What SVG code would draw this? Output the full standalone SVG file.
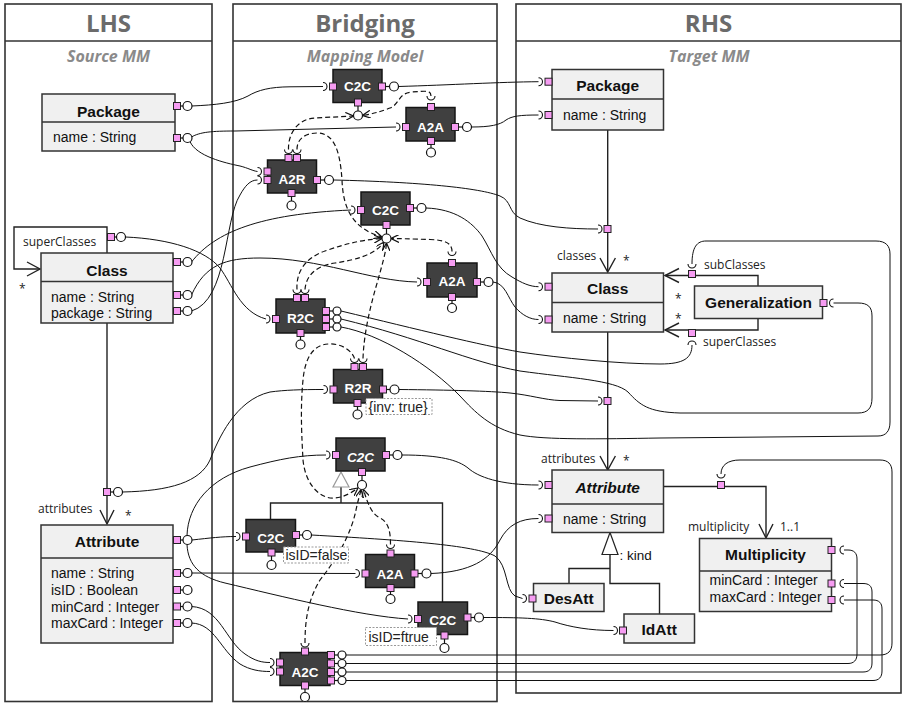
<svg xmlns="http://www.w3.org/2000/svg" width="903" height="704" viewBox="0 0 903 704">
<defs>
<style>
.panel{fill:none;stroke:#333;stroke-width:1.6}
.ttl{font-family:'Open Sans',sans-serif;font-weight:bold;font-size:24px;fill:#6b6b6b;text-anchor:middle}
.sub{font-family:'Open Sans',sans-serif;font-weight:bold;font-style:italic;font-size:16px;fill:#8a8a8a;text-anchor:middle}
.cls{fill:#f0f0f0;stroke:#333;stroke-width:1.5}
.div{stroke:#333;stroke-width:1.5}
.cn{font-family:'Liberation Sans',Arial,sans-serif;font-weight:bold;font-size:15.5px;fill:#111;text-anchor:middle}
.at{font-family:'Liberation Sans',Arial,sans-serif;font-size:14px;fill:#111}
.lbl{font-family:'Open Sans',sans-serif;font-size:12px;fill:#222}
.map{fill:#404040;stroke:#151515;stroke-width:1.5}
.mt{font-family:'Liberation Sans',Arial,sans-serif;font-weight:bold;font-size:13.5px;fill:#fff;text-anchor:middle}
.p{fill:#f69cf2;stroke:#222;stroke-width:1}
.lo{fill:#fff;stroke:#111;stroke-width:1.2}
.st{stroke:#111;stroke-width:1.2}
.w{fill:none;stroke:#111;stroke-width:1}
.d{fill:none;stroke:#111;stroke-width:1.2;stroke-dasharray:5 3;marker-end:url(#ah)}
.sk{fill:none;stroke:#111;stroke-width:1.1}
.as{fill:none;stroke:#222;stroke-width:1.4}
.note{fill:#fff;stroke:#999;stroke-width:1;stroke-dasharray:2 1.5}
.nt{font-family:'Liberation Sans',Arial,sans-serif;font-size:14px;fill:#222}
.gen{fill:#fff;stroke:#222;stroke-width:1.2}
</style>
<marker id="ah" viewBox="0 0 8 8" refX="8" refY="4" markerWidth="8" markerHeight="8" markerUnits="userSpaceOnUse" orient="auto">
<path d="M0,0 L8,4 L0,8" fill="none" stroke="#111" stroke-width="1.2" stroke-dasharray="none"/>
</marker>
</defs>
<rect x="0" y="0" width="903" height="704" fill="#fff"/>

<g id="panels">
<rect class="panel" x="5" y="4" width="207" height="697.5"/>
<line class="panel" x1="5" y1="41" x2="212" y2="41"/>
<text class="ttl" x="108.5" y="32">LHS</text>
<text class="sub" x="108.5" y="62">Source MM</text>
<rect class="panel" x="233" y="4" width="264" height="697.5"/>
<line class="panel" x1="233" y1="41" x2="497" y2="41"/>
<text class="ttl" x="365" y="32">Bridging</text>
<text class="sub" x="365" y="62">Mapping Model</text>
<rect class="panel" x="516" y="4" width="385" height="689"/>
<line class="panel" x1="516" y1="41" x2="901" y2="41"/>
<text class="ttl" x="708.5" y="32">RHS</text>
<text class="sub" x="709" y="62">Target MM</text>
</g>

<g id="structure">
<path class="as" d="M107,253 V227 H14 V269 H39"/>
<path class="as" d="M27,262 L40,269 L27,276"/>
<text class="lbl" x="23" y="246">superClasses</text>
<text class="lbl" x="19" y="293">*</text>
<path class="as" d="M107,323 V523"/>
<path class="as" d="M100,510 L107,524 L114,510"/>
<text class="lbl" x="38" y="513">attributes</text>
<text class="lbl" x="125" y="520">*</text>
<path class="as" d="M607.7,130 V271"/>
<path class="as" d="M600,258 L607.7,272 L615.4,258"/>
<text class="lbl" x="557" y="260">classes</text>
<text class="lbl" x="623" y="265">*</text>
<path class="as" d="M758,286 V275.5 H665"/>
<path class="as" d="M679,268.5 L665,275.5 L679,282.5"/>
<path class="as" d="M758,318.5 V330 H665"/>
<path class="as" d="M679,323 L665,330 L679,337"/>
<text class="lbl" x="704" y="269">subClasses</text>
<text class="lbl" x="703" y="346">superClasses</text>
<text class="lbl" x="675" y="302.5">*</text>
<text class="lbl" x="675" y="323">*</text>
<path class="as" d="M607.7,332 V469"/>
<path class="as" d="M600,456 L607.7,470 L615.4,456"/>
<text class="lbl" x="541" y="463">attributes</text>
<text class="lbl" x="623" y="465">*</text>
<path class="as" d="M663.5,486.5 H766 V537"/>
<path class="as" d="M759,524 L766,538 L773,524"/>
<text class="lbl" x="688" y="531">multiplicity</text>
<text class="lbl" x="780" y="531">1..1</text>
<path class="as" d="M610,554.5 V583.5 H659.5 V614"/>
<path class="as" d="M610,568.5 H569 V583.5"/>
<path class="gen" d="M610,532.5 L618,554.5 L602,554.5 Z"/>
<text class="at" x="619.5" y="560" style="font-size:13.5px">: kind</text>
<path class="as" d="M341,487 V503"/>
<path class="as" d="M270.5,519.5 V503 H442.5 V602"/>
<path d="M341,472 L349,487 L333,487 Z" fill="#fff" stroke="#999" stroke-width="1.2"/>
</g>

<g id="connectors">
<path class="w" d="M191.5,106 C215,105 235,103 248,96 C258,90 270,87 290,86.8 L323,86.5"/>
<path class="w" d="M191.5,137 C200,132 212,131 235,131 L396,127"/>
<path class="w" d="M190,141.5 C196,156 225,163 240,166 C248,168 253,171 257.5,171.5"/>
<path class="w" d="M398.5,86.5 C450,85 500,82 538.5,81.7"/>
<path class="w" d="M471.5,127 C490,127 500,125 506,120 C512,116 520,115 538.5,115"/>
<path class="w" d="M333.5,180 C420,182 480,188 500,196 C512,201 508,212 520,218 C540,227 570,229 598,229"/>
<path class="w" d="M191.5,262 C215,232 260,214 351,210"/>
<path class="w" d="M191.5,295 C205,265 225,258 260,258 C320,258 370,281 417,282"/>
<path class="w" d="M191.5,311 C228,300 224,220 240,195 C245,186 250,180 257.5,180"/>
<path class="w" d="M125.5,237 C170,239 205,250 220,268 C232,284 240,312 266,319"/>
<path class="w" d="M426,208 C455,209 472,222 482,236 C492,252 496,268 512,277 C522,283 530,286.7 538.5,286.7"/>
<path class="w" d="M493,282 C505,283 508,298 515,307 C522,315 530,319.5 538.5,319.5"/>
<path class="w" d="M341,311 C420,330 480,345 520,352 C560,358 620,364 660,364 C684,364 692,358 692,345"/>
<path class="w" d="M341,319 C420,338 470,362 520,371 C570,378 615,380 628,392 C640,405 648,412 680,413 L858,413 C868,413 872,408 872,398 L872,316 C872,307 868,303 858,303 L833.5,303"/>
<path class="w" d="M341,327 C380,334 430,365 460,396 C475,412 490,428 520,435 C545,440 600,439 660,438 L878,436 C886,436 890,431 890,422 L890,254 C890,246 886,241 876,241 L706,241 C697,241 692,247 692,264"/>
<path class="w" d="M399,389.5 C450,390 490,391 510,393 C530,395 545,400 560,400.5 L598,401"/>
<path class="w" d="M402,455 C440,455 458,460 468,468 C478,477 500,485 538.5,485"/>
<path class="w" d="M122.5,492 C170,491 200,482 210,460 C218,440 235,400 270,392 C285,390 300,389.5 323.5,389.5"/>
<path class="w" d="M192,540 C210,538 222,536.5 236,536.5"/>
<path class="w" d="M187,535.5 C188,505 210,478 250,467 C280,459 300,455 326,455"/>
<path class="w" d="M187,544.5 C188,565 200,577 225,583 C280,596 360,616 408,619"/>
<path class="w" d="M192,573 L355.5,573.5"/>
<path class="w" d="M191.5,606.5 C220,608 225,640 245,654 C255,661 262,662.5 270,662.5"/>
<path class="w" d="M191.5,623 C215,624 220,650 240,664 C250,670 260,671.5 270,671.5"/>
<path class="w" d="M311.5,535 C400,540 475,545 495,556 C508,565 505,590 515,596 L522.5,598.5"/>
<path class="w" d="M431,573.5 C470,572 490,560 500,540 C508,525 520,518.5 538.5,518.5"/>
<path class="w" d="M483.5,617.5 C520,617.5 540,618 555,622 C570,627 590,630.5 613.5,630.5"/>
<path class="w" d="M346,655 L880,655 C888,655 892,651 892,643 L892,472 C892,464 888,460 880,460 L740,460 C728,460 721,465 721,474"/>
<path class="w" d="M346,663.5 L848,663.5 C854,663.5 857,660 857,654 L857,559 C857,553 854,550 848,550 L844,550"/>
<path class="w" d="M346,672 L863,672 C869,672 872,669 872,663 L872,592 C872,586 869,583.5 863,583.5 L844,583.5"/>
<path class="w" d="M346,680.5 L873,680.5 C879,680.5 882,677 882,671 L882,609 C882,603 879,600 873,600 L844,600"/>
<path class="d" d="M288.5,149.5 C288,133 298,119 315,118 L353.5,116"/>
<path class="d" d="M431,96 C431,90 426,91 412,92 C398,93 400,104 390,108 C380,112 372,114 362.5,115.5"/>
<path class="d" d="M297,149.5 C297,138 306,133 318,133 C334,134 340,150 342,180 C343,205 350,228 382,237"/>
<path class="d" d="M297,289.5 C296,272 305,258 325,251 C345,244 360,240 382,238.5"/>
<path class="d" d="M305,289.5 C306,276 315,266 335,263 C355,260 375,255 384,242"/>
<path class="d" d="M452,251.5 C452,243 445,240 430,239.5 C410,239 400,238.5 391,238.5"/>
<path class="d" d="M363,358.5 C364,330 372,300 378,280 C382,265 386,252 386.5,243"/>
<path class="d" d="M354.5,358.5 C352,350 340,343 328,344 C313,345 305,358 303,380 C300,410 302,440 303,460 C305,480 315,495 330,498 C340,499 350,494 358,488"/>
<path class="d" d="M390.5,544.5 C390.5,530 388,522 380,518 C372,514 368,505 363.5,489.5"/>
<path class="d" d="M305,643 C305,620 308,600 320,580 C340,555 352,530 356,510 C358,500 360,495 361,489.5"/>
<g class="sk">
<path d="M323,82.5 A4,4 0 0 1 323,90.5"/>
<path d="M396,123 A4,4 0 0 1 396,131"/>
<path d="M257.5,167.5 A4,4 0 0 1 257.5,175.5"/>
<path d="M257.5,176 A4,4 0 0 1 257.5,184"/>
<path d="M351,206 A4,4 0 0 1 351,214"/>
<path d="M417,278 A4,4 0 0 1 417,286"/>
<path d="M266,315 A4,4 0 0 1 266,323"/>
<path d="M323.5,385.5 A4,4 0 0 1 323.5,393.5"/>
<path d="M326,451 A4,4 0 0 1 326,459"/>
<path d="M236,532.5 A4,4 0 0 1 236,540.5"/>
<path d="M355.5,569.5 A4,4 0 0 1 355.5,577.5"/>
<path d="M408,615 A4,4 0 0 1 408,623"/>
<path d="M270,658.5 A4,4 0 0 1 270,666.5"/>
<path d="M270,667.5 A4,4 0 0 1 270,675.5"/>
<path d="M538.5,77.7 A4,4 0 0 1 538.5,85.7"/>
<path d="M538.5,111 A4,4 0 0 1 538.5,119"/>
<path d="M598,225 A4,4 0 0 1 598,233"/>
<path d="M538.5,282.7 A4,4 0 0 1 538.5,290.7"/>
<path d="M538.5,315.5 A4,4 0 0 1 538.5,323.5"/>
<path d="M598,397 A4,4 0 0 1 598,405"/>
<path d="M538.5,481 A4,4 0 0 1 538.5,489"/>
<path d="M538.5,514.5 A4,4 0 0 1 538.5,522.5"/>
<path d="M522.5,594.5 A4,4 0 0 1 522.5,602.5"/>
<path d="M613.5,626.5 A4,4 0 0 1 613.5,634.5"/>
<path d="M427,96 A4,4 0 0 0 435,96"/>
<path d="M284.5,149.5 A4,4 0 0 0 292.5,149.5"/>
<path d="M293,149.5 A4,4 0 0 0 301,149.5"/>
<path d="M448,251.5 A4,4 0 0 0 456,251.5"/>
<path d="M293,289.5 A4,4 0 0 0 301,289.5"/>
<path d="M301,289.5 A4,4 0 0 0 309,289.5"/>
<path d="M350.5,358.5 A4,4 0 0 0 358.5,358.5"/>
<path d="M359,358.5 A4,4 0 0 0 367,358.5"/>
<path d="M386.5,544.5 A4,4 0 0 0 394.5,544.5"/>
<path d="M301,643 A4,4 0 0 0 309,643"/>
<path d="M688,264 A4,4 0 0 0 696,264"/>
<path d="M717,474 A4,4 0 0 0 725,474"/>
<path d="M688,345 A4,4 0 0 1 696,345"/>
<path d="M833.5,299 A4,4 0 0 0 833.5,307"/>
<path d="M844,546 A4,4 0 0 0 844,554"/>
<path d="M844,579.5 A4,4 0 0 0 844,587.5"/>
<path d="M844,596 A4,4 0 0 0 844,604"/>
</g>
</g>

<g id="lhs-package">
<rect class="cls" x="42" y="94" width="133" height="57"/>
<line class="div" x1="42" y1="122" x2="175" y2="122"/>
<text class="cn" x="108.5" y="117">Package</text>
<text class="at" x="53" y="142">name : String</text>
<rect class="p" x="173.5" y="102.5" width="7" height="7"/><line class="st" x1="180.5" y1="106" x2="183" y2="106"/><circle class="lo" cx="187.5" cy="106" r="4.5"/>
<rect class="p" x="173.5" y="134.5" width="7" height="7"/><line class="st" x1="180.5" y1="138" x2="183" y2="138"/><circle class="lo" cx="187.5" cy="138" r="4.5"/>
</g>
<g id="lhs-class">
<rect class="cls" x="41" y="253" width="132" height="70"/>
<line class="div" x1="41" y1="281.5" x2="173" y2="281.5"/>
<text class="cn" x="107" y="276">Class</text>
<text class="at" x="51" y="301.5">name : String</text>
<text class="at" x="51" y="317.5">package : String</text>
<rect class="p" x="173.5" y="258.5" width="7" height="7"/><line class="st" x1="180.5" y1="262" x2="183" y2="262"/><circle class="lo" cx="187.5" cy="262" r="4.5"/>
<rect class="p" x="173.5" y="291.5" width="7" height="7"/><line class="st" x1="180.5" y1="295" x2="183" y2="295"/><circle class="lo" cx="187.5" cy="295" r="4.5"/>
<rect class="p" x="173.5" y="307.5" width="7" height="7"/><line class="st" x1="180.5" y1="311" x2="183" y2="311"/><circle class="lo" cx="187.5" cy="311" r="4.5"/>
</g>
<g id="lhs-superClasses-port">
<rect class="p" x="107.5" y="233.5" width="7" height="7"/><line class="st" x1="114.5" y1="237" x2="116.5" y2="237"/><circle class="lo" cx="121" cy="237" r="4.5"/>
</g>
<g id="lhs-attributes-port">
<rect class="p" x="103.5" y="488.5" width="7" height="7"/><line class="st" x1="110.5" y1="492" x2="113.5" y2="492"/><circle class="lo" cx="118" cy="492" r="4.5"/>
</g>
<g id="lhs-attribute">
<rect class="cls" x="41" y="525" width="132" height="118"/>
<line class="div" x1="41" y1="558" x2="173" y2="558"/>
<text class="cn" x="107" y="546.5">Attribute</text>
<text class="at" x="51" y="577.5">name : String</text>
<text class="at" x="51" y="594.5">isID : Boolean</text>
<text class="at" x="51" y="611.5">minCard : Integer</text>
<text class="at" x="51" y="628">maxCard : Integer</text>
<rect class="p" x="173.5" y="536.5" width="7" height="7"/><line class="st" x1="180.5" y1="540" x2="183" y2="540"/><circle class="lo" cx="187.5" cy="540" r="4.5"/>
<rect class="p" x="173.5" y="569.5" width="7" height="7"/><line class="st" x1="180.5" y1="573" x2="183" y2="573"/><circle class="lo" cx="187.5" cy="573" r="4.5"/>
<rect class="p" x="173.5" y="586.5" width="7" height="7"/><line class="st" x1="180.5" y1="590" x2="183" y2="590"/><circle class="lo" cx="187.5" cy="590" r="4.5"/>
<rect class="p" x="173.5" y="603" width="7" height="7"/><line class="st" x1="180.5" y1="606.5" x2="183" y2="606.5"/><circle class="lo" cx="187.5" cy="606.5" r="4.5"/>
<rect class="p" x="173.5" y="619.5" width="7" height="7"/><line class="st" x1="180.5" y1="623" x2="183" y2="623"/><circle class="lo" cx="187.5" cy="623" r="4.5"/>
</g>

<g id="br-c2c-1">
<rect class="map" x="333" y="69.5" width="49" height="33"/>
<text class="mt" x="357.5" y="91">C2C</text>
<rect class="p" x="329.5" y="83" width="7" height="7"/>
<rect class="p" x="378.5" y="83" width="7" height="7"/><line class="st" x1="385.5" y1="86.5" x2="389.5" y2="86.5"/><circle class="lo" cx="394" cy="86.5" r="4.5"/>
<rect class="p" x="354.5" y="99" width="7" height="7"/><line class="st" x1="358" y1="106" x2="358" y2="111"/><circle class="lo" cx="358" cy="115.5" r="4.5"/>
</g>
<g id="br-a2a-1">
<rect class="map" x="406" y="107.5" width="49" height="33.5"/>
<text class="mt" x="430.5" y="131.5">A2A</text>
<rect class="p" x="402.5" y="123.5" width="7" height="7"/>
<rect class="p" x="451.5" y="123.5" width="7" height="7"/><line class="st" x1="458.5" y1="127" x2="462.5" y2="127"/><circle class="lo" cx="467" cy="127" r="4.5"/>
<rect class="p" x="427.5" y="103.5" width="7" height="7"/>
<rect class="p" x="427.5" y="137.5" width="7" height="7"/><line class="st" x1="431" y1="144.5" x2="431" y2="148"/><circle class="lo" cx="431" cy="152.5" r="4.5"/>
</g>
<g id="br-a2r">
<rect class="map" x="267.5" y="160" width="49" height="33"/>
<text class="mt" x="292" y="184">A2R</text>
<rect class="p" x="264" y="168" width="7" height="7"/>
<rect class="p" x="264" y="176.5" width="7" height="7"/>
<rect class="p" x="285" y="154.5" width="7" height="7"/>
<rect class="p" x="293.5" y="154.5" width="7" height="7"/>
<rect class="p" x="313.5" y="176.5" width="7" height="7"/><line class="st" x1="320.5" y1="180" x2="324.5" y2="180"/><circle class="lo" cx="329" cy="180" r="4.5"/>
<rect class="p" x="288" y="189.5" width="7" height="7"/><line class="st" x1="291.5" y1="196.5" x2="291.5" y2="201"/><circle class="lo" cx="291.5" cy="205.5" r="4.5"/>
</g>
<g id="br-c2c-2">
<rect class="map" x="361" y="192" width="49" height="33"/>
<text class="mt" x="385.5" y="215">C2C</text>
<rect class="p" x="357.5" y="206.5" width="7" height="7"/>
<rect class="p" x="406.5" y="204.5" width="7" height="7"/><line class="st" x1="413.5" y1="208" x2="417" y2="208"/><circle class="lo" cx="421.5" cy="208" r="4.5"/>
<rect class="p" x="383" y="221.5" width="7" height="7"/><line class="st" x1="386.5" y1="228.5" x2="386.5" y2="234"/><circle class="lo" cx="386.5" cy="238.5" r="4.5"/>
</g>
<g id="br-a2a-2">
<rect class="map" x="427" y="263" width="50" height="34"/>
<text class="mt" x="452" y="286">A2A</text>
<rect class="p" x="423.5" y="278.5" width="7" height="7"/>
<rect class="p" x="473.5" y="278.5" width="7" height="7"/><line class="st" x1="480.5" y1="282" x2="484" y2="282"/><circle class="lo" cx="488.5" cy="282" r="4.5"/>
<rect class="p" x="448.5" y="259.5" width="7" height="7"/>
<rect class="p" x="448.5" y="293.5" width="7" height="7"/><line class="st" x1="452" y1="300.5" x2="452" y2="303.5"/><circle class="lo" cx="452" cy="308" r="4.5"/>
</g>
<g id="br-r2c">
<rect class="map" x="276" y="299" width="49" height="34"/>
<text class="mt" x="300.5" y="323">R2C</text>
<rect class="p" x="272.5" y="315.5" width="7" height="7"/>
<rect class="p" x="293.5" y="294.5" width="7" height="7"/>
<rect class="p" x="301.5" y="294.5" width="7" height="7"/>
<rect class="p" x="322.5" y="307.5" width="7" height="7"/>
<rect class="p" x="322.5" y="315.5" width="7" height="7"/>
<rect class="p" x="322.5" y="323.5" width="7" height="7"/>
<line class="st" x1="329.5" y1="311" x2="333" y2="311"/><line class="st" x1="329.5" y1="319" x2="333" y2="319"/><line class="st" x1="329.5" y1="327" x2="333" y2="327"/>
<circle class="lo" cx="337" cy="311" r="4"/><circle class="lo" cx="337" cy="319" r="4"/><circle class="lo" cx="337" cy="327" r="4"/>
<rect class="p" x="297" y="329.5" width="7" height="7"/><line class="st" x1="300.5" y1="336.5" x2="300.5" y2="340"/><circle class="lo" cx="300.5" cy="344.5" r="4.5"/>
</g>
<g id="br-r2r">
<rect class="map" x="333.5" y="369.5" width="49" height="33.5"/>
<text class="mt" x="358" y="393">R2R</text>
<rect class="p" x="330" y="386" width="7" height="7"/>
<rect class="p" x="351" y="363.5" width="7" height="7"/>
<rect class="p" x="359.5" y="363.5" width="7" height="7"/>
<rect class="p" x="379.5" y="386" width="7" height="7"/><line class="st" x1="386.5" y1="389.5" x2="390" y2="389.5"/><circle class="lo" cx="394.5" cy="389.5" r="4.5"/>
<rect class="p" x="354" y="399.5" width="7" height="7"/><line class="st" x1="357.5" y1="406.5" x2="357.5" y2="410"/><circle class="lo" cx="357.5" cy="414.5" r="4.5"/>
<rect class="note" x="366" y="398.5" width="66" height="16"/>
<text class="nt" x="368.5" y="411.5">{inv: true}</text>
</g>
<g id="br-c2c-abstract">
<rect class="map" x="336" y="438" width="49" height="33"/>
<text class="mt" x="360.5" y="461.5" style="font-style:italic">C2C</text>
<rect class="p" x="332.5" y="451.5" width="7" height="7"/>
<rect class="p" x="382.5" y="451.5" width="7" height="7"/><line class="st" x1="389.5" y1="455" x2="393" y2="455"/><circle class="lo" cx="397.5" cy="455" r="4.5"/>
<rect class="p" x="358.5" y="468.5" width="7" height="7"/><line class="st" x1="362" y1="475.5" x2="362" y2="480.5"/><circle class="lo" cx="362" cy="485" r="4.5"/>
</g>
<g id="br-c2c-false">
<rect class="map" x="246" y="519.5" width="49.5" height="32.5"/>
<text class="mt" x="270.75" y="542.5">C2C</text>
<rect class="p" x="242.5" y="533" width="7" height="7"/>
<rect class="p" x="292.5" y="531.5" width="7" height="7"/><line class="st" x1="299.5" y1="535" x2="302.5" y2="535"/><circle class="lo" cx="307" cy="535" r="4.5"/>
<rect class="p" x="268" y="549" width="7" height="7"/><line class="st" x1="271.5" y1="556" x2="271.5" y2="560.5"/><circle class="lo" cx="271.5" cy="565" r="4.5"/>
<rect class="note" x="283.5" y="547" width="65" height="16"/>
<text class="nt" x="285.5" y="560">isID=false</text>
</g>
<g id="br-a2a-3">
<rect class="map" x="365.5" y="554.5" width="49" height="33"/>
<text class="mt" x="390" y="578.5">A2A</text>
<rect class="p" x="362" y="570" width="7" height="7"/>
<rect class="p" x="411" y="570" width="7" height="7"/><line class="st" x1="418" y1="573.5" x2="422" y2="573.5"/><circle class="lo" cx="426.5" cy="573.5" r="4.5"/>
<rect class="p" x="387" y="550" width="7" height="7"/>
<rect class="p" x="387" y="584.5" width="7" height="7"/><line class="st" x1="390.5" y1="591.5" x2="390.5" y2="594.5"/><circle class="lo" cx="390.5" cy="599" r="4.5"/>
</g>
<g id="br-c2c-true">
<rect class="map" x="418" y="602" width="49.5" height="32.5"/>
<text class="mt" x="442.75" y="625">C2C</text>
<rect class="p" x="414.5" y="615.5" width="7" height="7"/>
<rect class="p" x="464" y="614" width="7" height="7"/><line class="st" x1="471" y1="617.5" x2="474.5" y2="617.5"/><circle class="lo" cx="479" cy="617.5" r="4.5"/>
<rect class="note" x="365.5" y="627.5" width="71" height="18"/>
<text class="nt" x="368.5" y="641.5">isID=ftrue</text>
<rect class="p" x="441" y="632" width="7" height="7"/><line class="st" x1="444.5" y1="639" x2="444.5" y2="643.5"/><circle class="lo" cx="444.5" cy="648" r="4.5"/>
</g>
<g id="br-a2c">
<rect class="map" x="280" y="652.5" width="50" height="33"/>
<text class="mt" x="305" y="676.5">A2C</text>
<rect class="p" x="276.5" y="659" width="7" height="7"/>
<rect class="p" x="276.5" y="668" width="7" height="7"/>
<rect class="p" x="301.5" y="648" width="7" height="7"/>
<rect class="p" x="327.5" y="651.5" width="7" height="7"/>
<rect class="p" x="327.5" y="660" width="7" height="7"/>
<rect class="p" x="327.5" y="668.5" width="7" height="7"/>
<rect class="p" x="327.5" y="677" width="7" height="7"/>
<line class="st" x1="334.5" y1="655" x2="338" y2="655"/><line class="st" x1="334.5" y1="663.5" x2="338" y2="663.5"/><line class="st" x1="334.5" y1="672" x2="338" y2="672"/><line class="st" x1="334.5" y1="680.5" x2="338" y2="680.5"/>
<circle class="lo" cx="342" cy="655" r="4"/><circle class="lo" cx="342" cy="663.5" r="4"/><circle class="lo" cx="342" cy="672" r="4"/><circle class="lo" cx="342" cy="680.5" r="4"/>
<rect class="p" x="301.5" y="682" width="7" height="7"/><line class="st" x1="305" y1="689" x2="305" y2="692.5"/><circle class="lo" cx="305" cy="697" r="4.5"/>
</g>

<g id="rhs-package">
<rect class="cls" x="552" y="69.5" width="111.5" height="60.5"/>
<line class="div" x1="552" y1="99" x2="663.5" y2="99"/>
<text class="cn" x="607.7" y="91">Package</text>
<text class="at" x="563" y="119.5">name : String</text>
<rect class="p" x="545" y="78.2" width="7" height="7"/>
<rect class="p" x="545" y="111.5" width="7" height="7"/>
</g>
<g id="rhs-classes-port"><rect class="p" x="604" y="225.5" width="7" height="7"/></g>
<g id="rhs-class">
<rect class="cls" x="552" y="273" width="111.5" height="59"/>
<line class="div" x1="552" y1="302.5" x2="663.5" y2="302.5"/>
<text class="cn" x="607.7" y="294">Class</text>
<text class="at" x="563" y="322.5">name : String</text>
<rect class="p" x="545" y="283.2" width="7" height="7"/>
<rect class="p" x="545" y="316" width="7" height="7"/>
</g>
<g id="rhs-generalization">
<rect class="cls" x="694.5" y="286" width="128" height="32.5"/>
<text class="cn" x="758.5" y="308">Generalization</text>
<rect class="p" x="820" y="299.5" width="7" height="7"/>
<rect class="p" x="688.5" y="270.5" width="7" height="7"/>
<rect class="p" x="688.5" y="329.5" width="7" height="7"/>
</g>
<g id="rhs-attributes-port"><rect class="p" x="604" y="397.5" width="7" height="7"/></g>
<g id="rhs-attribute">
<rect class="cls" x="552" y="470" width="111.5" height="62.5"/>
<line class="div" x1="552" y1="504" x2="663.5" y2="504"/>
<text class="cn" x="607.7" y="492.5" style="font-style:italic">Attribute</text>
<text class="at" x="563" y="523.5">name : String</text>
<rect class="p" x="545" y="481.5" width="7" height="7"/>
<rect class="p" x="545" y="515" width="7" height="7"/>
</g>
<g id="rhs-multiplicity-port"><rect class="p" x="717.5" y="481.5" width="7" height="7"/></g>
<g id="rhs-multiplicity">
<rect class="cls" x="699.5" y="538.5" width="132" height="73"/>
<line class="div" x1="699.5" y1="571" x2="831.5" y2="571"/>
<text class="cn" x="765.5" y="560">Multiplicity</text>
<text class="at" x="709.5" y="584.5">minCard : Integer</text>
<text class="at" x="709.5" y="602">maxCard : Integer</text>
<rect class="p" x="828" y="546.5" width="7" height="7"/>
<rect class="p" x="828" y="580" width="7" height="7"/>
<rect class="p" x="828" y="596.5" width="7" height="7"/>
</g>
<g id="rhs-desatt">
<rect class="cls" x="533.5" y="583.5" width="70.5" height="28"/>
<text class="cn" x="568.7" y="603.5">DesAtt</text>
<rect class="p" x="529" y="595" width="7" height="7"/>
</g>
<g id="rhs-idatt">
<rect class="cls" x="624" y="614" width="70.5" height="29"/>
<text class="cn" x="659.2" y="635">IdAtt</text>
<rect class="p" x="619.5" y="627" width="7" height="7"/>
</g>
</svg>
